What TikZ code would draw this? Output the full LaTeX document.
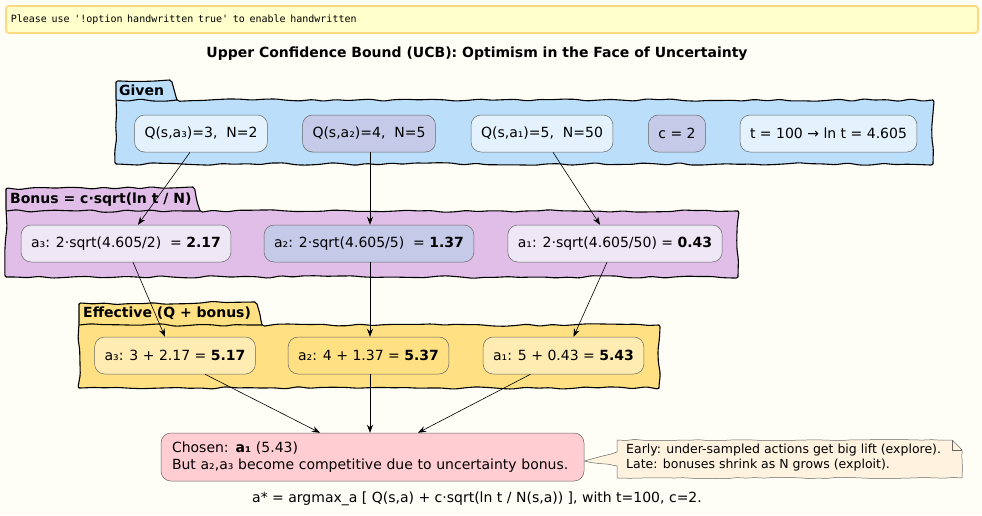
\documentclass[tikz,border=0pt]{standalone}
\usepackage{fontspec}
\setmainfont{DejaVu Sans}
\setmonofont{DejaVu Sans Mono}
\usetikzlibrary{arrows.meta,decorations.pathmorphing}
\definecolor{bg}{HTML}{FEFDF6}
\definecolor{bannerfill}{HTML}{FFFFCC}
\definecolor{bannerline}{HTML}{FFD980}
\definecolor{givenfill}{HTML}{BBDEFB}
\definecolor{givenlight}{HTML}{E3F2FD}
\definecolor{hilite}{HTML}{C5CAE9}
\definecolor{bonusfill}{HTML}{E1BEE7}
\definecolor{bonuslight}{HTML}{EDE7F6}
\definecolor{efffill}{HTML}{FFE082}
\definecolor{efflight}{HTML}{FFECB3}
\definecolor{chosenfill}{HTML}{FFCDD2}
\definecolor{notefill}{HTML}{FFF3E0}
\tikzset{
  pkg/.style={draw=black, line width=1.1pt, line join=round, rounded corners=2pt,
    decorate, decoration={random steps, segment length=12pt, amplitude=1.3pt}},
  pkglabel/.style={anchor=west, font=\bfseries\fontsize{14}{16}\selectfont, inner sep=0pt},
  box/.style={draw=black!60, line width=0.5pt, rounded corners=10pt, minimum height=37pt,
    inner xsep=10pt},
  arr/.style={draw=black, line width=0.6pt, -{Stealth[length=8pt,width=6pt]}},
}
\begin{document}
\begin{tikzpicture}[x=1pt,y=-1pt,font=\fontsize{14}{17}\selectfont]
\pgfmathsetseed{11}
\fill[bg] (0,0) rectangle (982,515);
\useasboundingbox (0,0) rectangle (982,515);

% banner
\node[draw=bannerline, fill=bannerfill, line width=1.8pt, rounded corners=3pt, anchor=north west,
  minimum width=972pt, minimum height=27pt, text width=962pt, inner xsep=5pt, align=left]
  (banner) at (5,5) {\ttfamily\fontsize{10}{12}\selectfont Please use '!option handwritten true' to enable handwritten};

% title
\node[font=\bfseries\fontsize{14}{16}\selectfont] (title) at (477,54)
  {Upper Confidence Bound (UCB): Optimism in the Face of Uncertainty};

% packages
\draw[pkg, fill=givenfill] (116,100) -- (116,82) -- (170,80) -- (177,100) -- (933,100) -- (933,164) -- (116,164) -- cycle;
\draw[pkg] (116,100) -- (177,100);
\node[pkglabel] (givenlbl) at (119,90) {Given};

\draw[pkg, fill=bonusfill] (6,211) -- (6,189) -- (193,187) -- (200,211) -- (738,211) -- (738,277) -- (6,277) -- cycle;
\draw[pkg] (6,211) -- (200,211);
\node[pkglabel] (bonuslbl) at (10,200) {Bonus = c·sqrt(ln t / N)};

\draw[pkg, fill=efffill] (79,325) -- (79,304) -- (255,302) -- (262,325) -- (659,325) -- (659,388) -- (79,388) -- cycle;
\draw[pkg] (79,325) -- (262,325);
\node[pkglabel] (efflbl) at (83,313) {Effective (Q + bonus)};

% Given nodes
\node[box, fill=givenlight] (g3) at (201,133.5) {Q(s,a₃)=3,\ \ N=2};
\node[box, fill=hilite] (g2) at (369,133.5) {Q(s,a₂)=4,\ \ N=5};
\node[box, fill=givenlight] (g1) at (542,133.5) {Q(s,a₁)=5,\ \ N=50};
\node[box, fill=hilite] (gc) at (677,133.5) {c = 2};
\node[box, fill=givenlight] (gt) at (828.5,133.5) {t = 100 → ln t = 4.605};

% Bonus nodes
\node[box, fill=bonuslight] (b3) at (126,243.5) {a₃: 2·sqrt(4.605/2)\ \ = \textbf{2.17}};
\node[box, fill=hilite] (b2) at (369,243.5) {a₂: 2·sqrt(4.605/5)\ \ = \textbf{1.37}};
\node[box, fill=bonuslight] (b1) at (615,243.5) {a₁: 2·sqrt(4.605/50) = \textbf{0.43}};

% Effective nodes
\node[box, fill=efflight] (e3) at (175,355.5) {a₃: 3 + 2.17 = \textbf{5.17}};
\node[box, fill=efffill] (e2) at (368.5,355.5) {a₂: 4 + 1.37 = \textbf{5.37}};
\node[box, fill=efflight] (e1) at (563.5,355.5) {a₁: 5 + 0.43 = \textbf{5.43}};

% Chosen
\node[box, fill=chosenfill, minimum width=423pt, minimum height=48pt, text width=401pt,
  inner xsep=11pt, align=left] (chosen) at (372.5,457)
  {Chosen: \textbf{a₁} (5.43)\\But a₂,a₃ become competitive due to uncertainty bonus.};

% Note
\draw[draw=black!60, line width=0.5pt, fill=notefill, line join=round, decorate,
  decoration={random steps, segment length=9pt, amplitude=0.6pt}]
  (617,440) -- (952,440) -- (962,450) -- (962,478) -- (617,478) -- (617,466) -- (chosen.east |- 0,461) -- (617,452) -- cycle;
\draw[draw=black!60, line width=0.5pt] (952,440) -- (952,450) -- (962,450);
\node[font=\fontsize{12.5}{15}\selectfont, align=left, anchor=west, inner sep=0pt] (note) at (626,458)
  {Early: under-sampled actions get big lift (explore).\\Late: bonuses shrink as N grows (exploit).};

% caption
\node (caption) at (477,499) {a* = argmax\_a [ Q(s,a) + c·sqrt(ln t / N(s,a)) ], with t=100, c=2.};

% connectors
\draw[arr] ([xshift=-11pt]g3.south) -- ([xshift=12pt]b3.north);
\draw[arr] ([xshift=1pt]g2.south) -- ([xshift=1pt]b2.north);
\draw[arr] ([xshift=11pt]g1.south) -- ([xshift=-15pt]b1.north);
\draw[arr] ([xshift=7pt]b3.south) -- ([xshift=-10pt]e3.north);
\draw[arr] ([xshift=1pt]b2.south) -- ([xshift=1.5pt]e2.north);
\draw[arr] ([xshift=-8pt]b1.south) -- ([xshift=10pt]e1.north);
\draw[arr] ([xshift=30pt]e3.south) -- ([xshift=-52.5pt]chosen.north);
\draw[arr] ([xshift=1.5pt]e2.south) -- ([xshift=-2.5pt]chosen.north);
\draw[arr] ([xshift=-33pt]e1.south) -- ([xshift=45.5pt]chosen.north);
\end{tikzpicture}
\end{document}
